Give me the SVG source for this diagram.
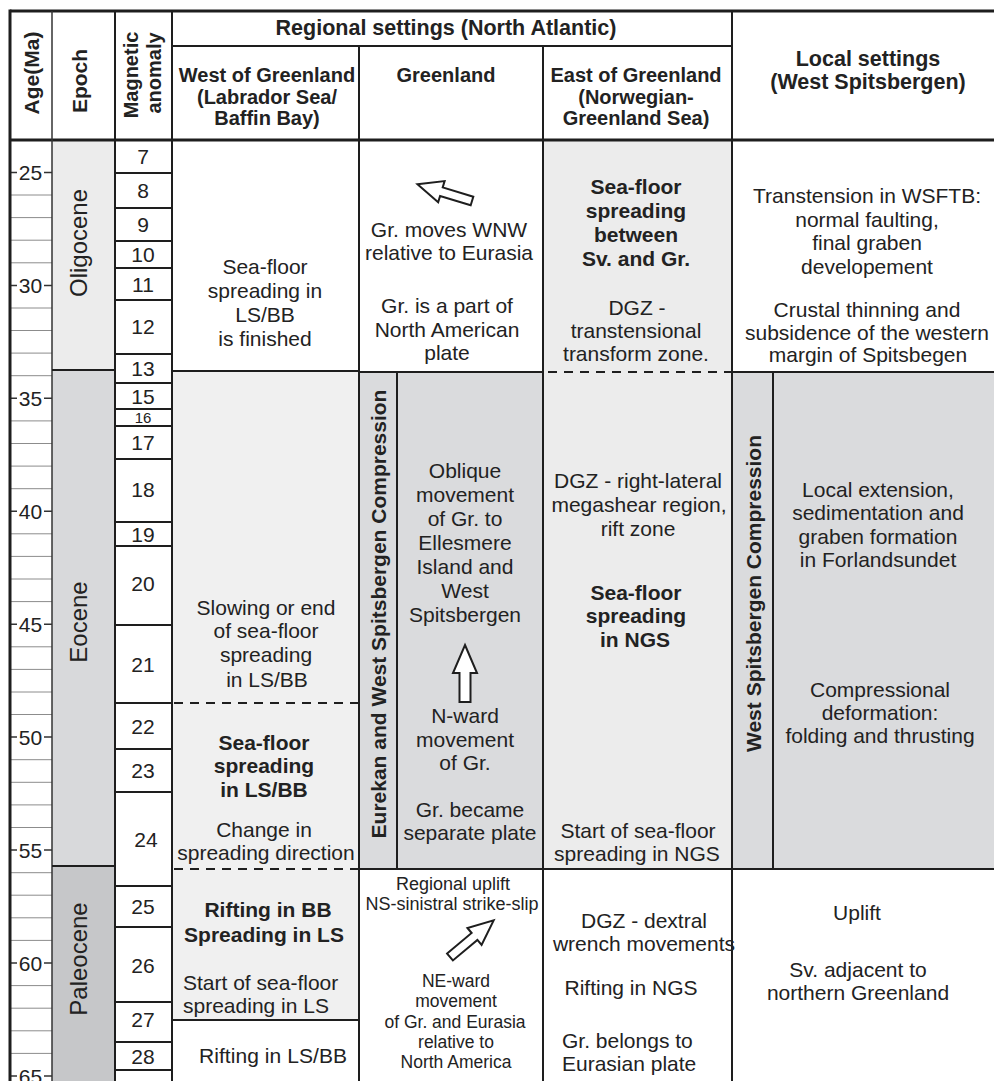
<svg xmlns="http://www.w3.org/2000/svg" width="994" height="1081" viewBox="0 0 994 1081">
<defs>
<style>
text{font-family:"Liberation Sans",Arial,Helvetica,sans-serif;fill:#222;text-anchor:middle}
.t{font-size:21px}
.b{font-size:21px;font-weight:bold}
.h{font-size:20px;font-weight:bold}
.hl{font-size:21.5px;font-weight:bold}
.s{font-size:18px}
.xs{font-size:17.5px}
.ep{font-size:24px}
.n{font-size:21px}
.st{text-anchor:start}
.g{stroke:#1e1e1e;stroke-width:2;fill:none}
.gt{stroke:#1e1e1e;stroke-width:3;fill:none}
.d{stroke:#1e1e1e;stroke-width:2;stroke-dasharray:9 7;fill:none}
.mi{stroke:#8c8c8c;stroke-width:1;fill:none}
.tk{stroke:#333;stroke-width:1.5;fill:none}
.ar{fill:#fff;stroke:#1e1e1e;stroke-width:2;stroke-linejoin:miter}
</style>
<polygon id="arr" points="0,-4.5 32,-4.5 32,-11 57,0 32,11 32,4.5 0,4.5"/>
</defs>
<rect width="994" height="1081" fill="#fff"/>

<g id="fills">
<rect x="52" y="141" width="63" height="229" fill="#ececec"/>
<rect x="52" y="370" width="63" height="496" fill="#d8d9db"/>
<rect x="52" y="866" width="63" height="215" fill="#c6c7c9"/>
<rect x="172" y="371" width="187" height="649" fill="#f0f0f0"/>
<rect x="359" y="372" width="184" height="497" fill="#dadbdd"/>
<rect x="543" y="141" width="189" height="728" fill="#ececec"/>
<rect x="732" y="372" width="262" height="497" fill="#dadbdd"/>
</g>

<g id="age-scale">
<path class="mi" d="M11 195H52M11 217.6H52M11 240.2H52M11 262.8H52M11 308H52M11 330.5H52M11 353.1H52M11 375.7H52M11 420.9H52M11 443.5H52M11 466.1H52M11 488.7H52M11 533.8H52M11 556.4H52M11 579H52M11 601.6H52M11 646.8H52M11 669.4H52M11 692H52M11 714.5H52M11 759.7H52M11 782.3H52M11 804.9H52M11 827.5H52M11 872.7H52M11 895.2H52M11 917.8H52M11 940.4H52M11 985.6H52M11 1008.2H52M11 1030.8H52M11 1053.4H52"/>
<path class="tk" d="M11 172.4H17M44 172.4H52M11 285.4H17M44 285.4H52M11 398.3H17M44 398.3H52M11 511.3H17M44 511.3H52M11 624.2H17M44 624.2H52M11 737.1H17M44 737.1H52M11 850.1H17M44 850.1H52M11 963H17M44 963H52M11 1076H17M44 1076H52"/>
<text class="t" x="30.5" y="179.9">25</text>
<text class="t" x="30.5" y="292.9">30</text>
<text class="t" x="30.5" y="405.8">35</text>
<text class="t" x="30.5" y="518.8">40</text>
<text class="t" x="30.5" y="631.7">45</text>
<text class="t" x="30.5" y="744.6">50</text>
<text class="t" x="30.5" y="857.6">55</text>
<text class="t" x="30.5" y="970.5">60</text>
<text class="t" x="30.5" y="1083.5">65</text>
</g>

<g id="grid">
<path class="gt" d="M10 11H994M10 140H994"/>
<path class="gt" d="M10 9.5V1081"/>
<path class="tk" d="M52 11V1081"/>
<path class="g" d="M115 11V1081M172 11V1081M732 11V1081M359 46V1081M543 46V1081M172 46H732"/>
<path class="g" d="M52 370H115M52 866H115"/>
<path class="g" d="M115 173H172M115 208H172M115 241H172M115 268H172M115 300H172M115 354H172M115 383H172M115 409H172M115 426H172M115 459H172M115 522H172M115 546H172M115 625H172M115 703H172M115 749H172M115 792H172M115 886H172M115 927H172M115 1002H172M115 1042H172M115 1070H172"/>
<path class="g" d="M172 371H359M172 1020H359M359 372H543M359 869H543M397 372V869M543 869H732M732 372H994M732 869H994M773 372V869"/>
<path class="d" d="M174 703H359M174 869H359M548 372H732"/>
</g>

<g id="head-age"><text class="b" transform="translate(38.5,73) rotate(-90)">Age(Ma)</text></g>
<g id="head-epoch"><text class="b" transform="translate(87,81) rotate(-90)">Epoch</text></g>
<g id="head-magnetic"><text class="h" transform="translate(138,75) rotate(-90)">Magnetic</text><text class="h" transform="translate(161,73) rotate(-90)">anomaly</text></g>
<g id="head-regional"><text class="hl" x="446" y="35">Regional settings (North Atlantic)</text></g>
<g id="head-west"><text class="h" x="267" y="82">West of Greenland</text><text class="h" x="267" y="104">(Labrador Sea/</text><text class="h" x="267" y="125">Baffin Bay)</text></g>
<g id="head-greenland"><text class="h" x="446" y="82">Greenland</text></g>
<g id="head-east"><text class="h" x="636" y="82">East of Greenland</text><text class="h" x="636" y="104">(Norwegian-</text><text class="h" x="636" y="125">Greenland Sea)</text></g>
<g id="head-local"><text class="hl" x="868" y="66">Local settings</text><text class="hl" x="868" y="89">(West Spitsbergen)</text></g>

<g id="epochs">
<text class="ep" transform="translate(87,243) rotate(-90)">Oligocene</text>
<text class="ep" transform="translate(87,622) rotate(-90)">Eocene</text>
<text class="ep" transform="translate(87,959) rotate(-90)">Paleocene</text>
</g>

<g id="anomalies">
<text class="n" x="143" y="164">7</text>
<text class="n" x="143" y="198">8</text>
<text class="n" x="143" y="232">9</text>
<text class="n" x="143" y="262">10</text>
<text class="n" x="143" y="291.5">11</text>
<text class="n" x="143" y="334">12</text>
<text class="n" x="143" y="376">13</text>
<text class="n" x="143" y="403.5">15</text>
<text x="143" y="423" style="font-size:15px">16</text>
<text class="n" x="143" y="450">17</text>
<text class="n" x="143" y="497">18</text>
<text class="n" x="143" y="541.5">19</text>
<text class="n" x="143" y="591">20</text>
<text class="n" x="143" y="672">21</text>
<text class="n" x="143" y="733.5">22</text>
<text class="n" x="143" y="778">23</text>
<text class="n" x="146" y="847">24</text>
<text class="n" x="143" y="914">25</text>
<text class="n" x="143" y="973">26</text>
<text class="n" x="143" y="1027">27</text>
<text class="n" x="143" y="1064">28</text>
</g>

<g id="west-oligocene">
<text class="t" x="265" y="274">Sea-floor</text>
<text class="t" x="265" y="298">spreading in</text>
<text class="t" x="265" y="322">LS/BB</text>
<text class="t" x="265" y="346">is finished</text>
</g>
<g id="west-eocene-upper">
<text class="t" x="266" y="615">Slowing or end</text>
<text class="t" x="266" y="638">of sea-floor</text>
<text class="t" x="266" y="662">spreading</text>
<text class="t" x="267" y="687">in LS/BB</text>
</g>
<g id="west-eocene-lower">
<text class="b" x="264" y="750">Sea-floor</text>
<text class="b" x="264" y="773">spreading</text>
<text class="b" x="264" y="797">in LS/BB</text>
<text class="t" x="264" y="837">Change in</text>
<text class="t" x="266" y="860">spreading direction</text>
</g>
<g id="west-paleocene">
<text class="b" x="268" y="917">Rifting in BB</text>
<text class="b" x="264" y="942">Spreading in LS</text>
<text class="t st" x="183" y="990">Start of sea-floor</text>
<text class="t st" x="183" y="1013">spreading in LS</text>
</g>
<g id="west-bottom">
<text class="t" x="273" y="1063" textLength="148" lengthAdjust="spacing">Rifting in LS/BB</text>
</g>

<g id="greenland-oligocene">
<use href="#arr" class="ar" transform="translate(472,201) rotate(197)"/>
<text class="t" x="449" y="237">Gr. moves WNW</text>
<text class="t" x="449" y="260">relative to Eurasia</text>
<text class="t" x="447" y="313">Gr. is a part of</text>
<text class="t" x="447" y="337">North American</text>
<text class="t" x="447" y="360">plate</text>
</g>
<g id="eurekan-compression">
<text class="b" transform="translate(386,614) rotate(-90)">Eurekan and West Spitsbergen Compression</text>
</g>
<g id="greenland-eocene">
<text class="t" x="465" y="478">Oblique</text>
<text class="t" x="465" y="502">movement</text>
<text class="t" x="465" y="526">of Gr. to</text>
<text class="t" x="465" y="550">Ellesmere</text>
<text class="t" x="465" y="574">Island and</text>
<text class="t" x="465" y="598">West</text>
<text class="t" x="465" y="622">Spitsbergen</text>
<polygon class="ar" points="465,645 477,673 470.5,673 470.5,702 459.5,702 459.5,673 453,673"/>
<text class="t" x="465" y="723">N-ward</text>
<text class="t" x="465" y="747">movement</text>
<text class="t" x="465" y="770">of Gr.</text>
<text class="t" x="470" y="817">Gr. became</text>
<text class="t" x="470" y="840">separate plate</text>
</g>
<g id="greenland-paleocene">
<text class="s" x="453" y="890">Regional uplift</text>
<text class="s" x="452" y="910">NS-sinistral strike-slip</text>
<use href="#arr" class="ar" transform="translate(450,957) rotate(-40)"/>
<text class="xs" x="456" y="987">NE-ward</text>
<text class="xs" x="456" y="1007">movement</text>
<text class="xs" x="455" y="1028">of Gr. and Eurasia</text>
<text class="xs" x="456" y="1048">relative to</text>
<text class="xs" x="456" y="1068">North America</text>
</g>

<g id="east-oligocene">
<text class="b" x="636" y="194">Sea-floor</text>
<text class="b" x="636" y="218">spreading</text>
<text class="b" x="636" y="242">between</text>
<text class="b" x="636" y="266">Sv. and Gr.</text>
<text class="t" x="637" y="315">DGZ -</text>
<text class="t" x="636" y="338">transtensional</text>
<text class="t" x="636" y="361">transform zone.</text>
</g>
<g id="east-eocene">
<text class="t" x="638" y="488">DGZ - right-lateral</text>
<text class="t" x="639" y="512">megashear region,</text>
<text class="t" x="638" y="536">rift zone</text>
<text class="b" x="636" y="600">Sea-floor</text>
<text class="b" x="636" y="623">spreading</text>
<text class="b" x="635" y="647">in NGS</text>
<text class="t" x="638" y="838">Start of sea-floor</text>
<text class="t" x="637" y="861">spreading in NGS</text>
</g>
<g id="east-paleocene">
<text class="t" x="644" y="928">DGZ - dextral</text>
<text class="t" x="644" y="951">wrench movements</text>
<text class="t" x="631" y="995">Rifting in NGS</text>
<text class="t st" x="562" y="1048">Gr. belongs to</text>
<text class="t st" x="562" y="1071">Eurasian plate</text>
</g>

<g id="local-oligocene">
<text class="t" x="867" y="203">Transtension in WSFTB:</text>
<text class="t" x="867" y="226.5">normal faulting,</text>
<text class="t" x="867" y="250">final graben</text>
<text class="t" x="867" y="273.5">developement</text>
<text class="t" x="867" y="317">Crustal thinning and</text>
<text class="t" x="867" y="340">subsidence of the western</text>
<text class="t" x="868" y="362">margin of Spitsbegen</text>
</g>
<g id="ws-compression">
<text class="b" transform="translate(761,593.5) rotate(-90)">West Spitsbergen Compression</text>
</g>
<g id="local-eocene">
<text class="t" x="878" y="497">Local extension,</text>
<text class="t" x="878" y="520">sedimentation and</text>
<text class="t" x="878" y="544">graben formation</text>
<text class="t" x="878" y="567">in Forlandsundet</text>
<text class="t" x="880" y="697">Compressional</text>
<text class="t" x="880" y="720">deformation:</text>
<text class="t" x="880" y="743">folding and thrusting</text>
</g>
<g id="local-paleocene">
<text class="t" x="857" y="920">Uplift</text>
<text class="t" x="858" y="977">Sv. adjacent to</text>
<text class="t" x="858" y="1000">northern Greenland</text>
</g>
</svg>
